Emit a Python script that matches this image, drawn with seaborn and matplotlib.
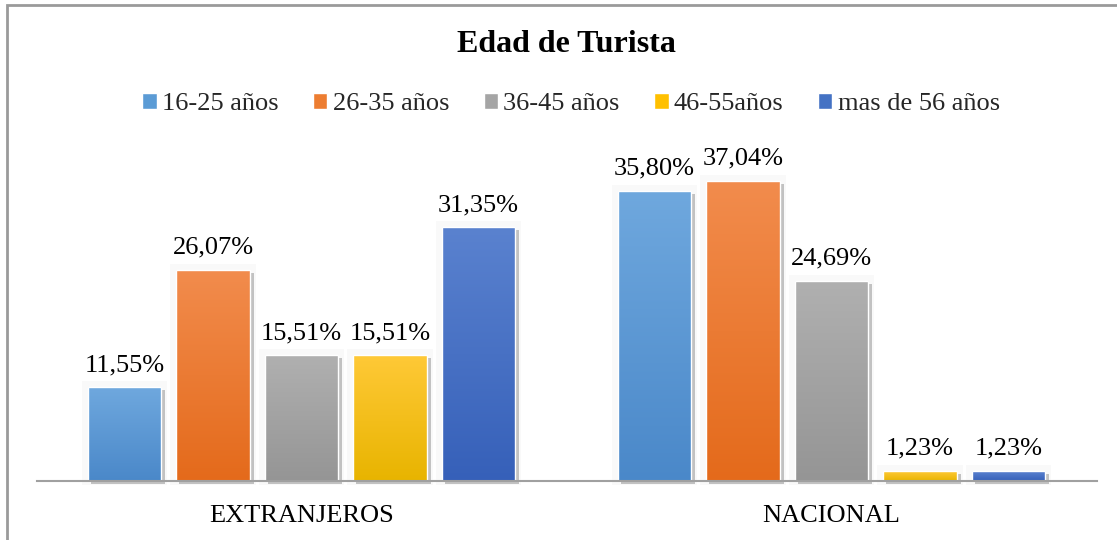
import numpy as np
import pandas as pd
import matplotlib.pyplot as plt
import seaborn as sns
from matplotlib.colors import LinearSegmentedColormap
from matplotlib.patches import Rectangle

# ------------------------
# Data
# ------------------------
groups = ["EXTRANJEROS", "NACIONAL"]
ages = ["16-25 años", "26-35 años", "36-45 años", "46-55años", "mas de 56 años"]
extranjeros = [11.55, 26.07, 15.51, 15.51, 31.35]
nacional = [35.80, 37.04, 24.69, 1.23, 1.23]

# top (light) / bottom (dark) colours of each series gradient
top_colors = ["#6fa8de", "#f28c4d", "#b0b0b0", "#ffc937", "#5a82cf"]
bottom_colors = ["#4a88c9", "#e46a1b", "#959595", "#e8b400", "#3660b9"]
legend_colors = ["#5b9bd5", "#ed7d31", "#a5a5a5", "#ffc000", "#4472c4"]

df = pd.DataFrame({
    "grupo": np.repeat(groups, len(ages)),
    "edad": ages * len(groups),
    "valor": extranjeros + nacional,
})

# ------------------------
# Plot
# ------------------------
sns.set_style("white")
plt.rcParams["font.family"] = ["Liberation Serif", "DejaVu Serif"]

fig = plt.figure(figsize=(11.17, 5.40), dpi=100)
ax = fig.add_axes([36.5 / 1117, 59 / 540, 1060 / 1117, 324 / 540])

sns.barplot(data=df, x="grupo", y="valor", hue="edad", hue_order=ages,
            palette=bottom_colors, width=0.835, gap=0.175, ax=ax, legend=False)

ax.set_ylim(0, 40)
ax.set_xlim(-0.5, 1.5)
px_x = 1 / 530
px_y = 40 / 324

grad = np.linspace(0, 1, 256).reshape(-1, 1)
for i, cont in enumerate(ax.containers):
    cmap = LinearSegmentedColormap.from_list(f"g{i}", [bottom_colors[i], top_colors[i]])
    for bar in cont:
        x, y = bar.get_x(), bar.get_y()
        w, h = bar.get_width(), bar.get_height()
        # soft shadow
        ax.add_patch(Rectangle((x - 6 * px_x, y - 4 * px_y), w + 12 * px_x, h + 10 * px_y,
                               color="#000000", alpha=0.025, lw=0, zorder=0.5, clip_on=False))
        ax.add_patch(Rectangle((x + 3 * px_x, y - 3 * px_y), w + 1 * px_x, h,
                               color="#000000", alpha=0.22, lw=0, zorder=0.6, clip_on=False))
        bar.set_facecolor("none")
        bar.set_zorder(2)
        img = ax.imshow(grad, extent=[x, x + w, y, y + h], origin="lower", cmap=cmap,
                        aspect="auto", zorder=1.5)
        img.set_clip_path(bar)
    labels = [f"{b.get_height():.2f}%".replace(".", ",") for b in cont]
    ax.bar_label(cont, labels=labels, padding=8, fontsize=19, color="black")

ax.set_aspect("auto")
ax.set_xlim(-0.5, 1.5)
ax.set_ylim(0, 40)

sns.despine(ax=ax, left=True, top=True, right=True)
ax.spines["bottom"].set_color("#a0a0a0")
ax.spines["bottom"].set_linewidth(1.5)
ax.spines["bottom"].set_zorder(3)
ax.set_yticks([])
ax.set_xlabel("")
ax.set_ylabel("")
ax.tick_params(axis="x", length=0, pad=17, labelsize=19, labelcolor="black")

# legend
handles = [Rectangle((0, 0), 1, 1, facecolor=c) for c in legend_colors]
fig.legend(handles, ages, loc="center", bbox_to_anchor=(571 / 1117, 1 - 104 / 540),
           ncol=5, frameon=False, fontsize=19, handlelength=0.55, handleheight=0.55,
           handletextpad=0.2, columnspacing=1.3)

fig.text(566 / 1117, 1 - 45 / 540, "Edad de Turista", ha="center", va="center",
         fontsize=23, fontweight="bold", color="black")

# chart frame
fig.patches.append(Rectangle((7 / 1117, -0.05), 1.2, 1 - 5 / 540 + 0.05,
                             transform=fig.transFigure, fill=False,
                             edgecolor="#9a9a9a", lw=2))

fig.savefig("out.png", dpi=100, facecolor="white")
